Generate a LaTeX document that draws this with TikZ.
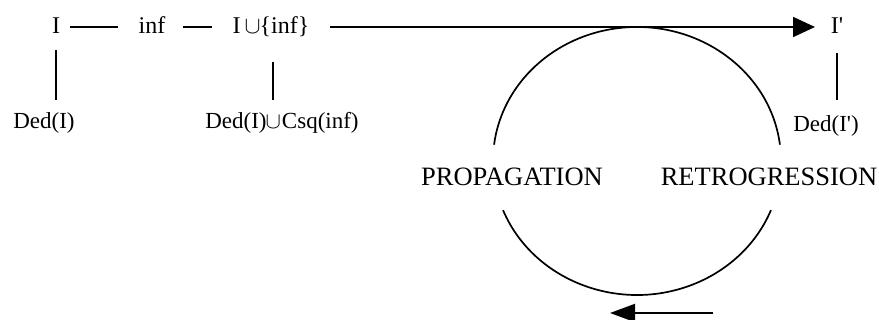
\RequirePackage{fix-cm}
\documentclass[tikz,border=0pt]{standalone}
\usepackage{fontspec}
\setmainfont{Liberation Serif}
\usetikzlibrary{arrows.meta,calc}
\begin{document}
\begin{tikzpicture}[x=1pt,y=1pt,
  lbl/.style={inner sep=0pt,anchor=base,font=\fontsize{24}{28}\selectfont},
  ded/.style={inner sep=0pt,anchor=base,font=\fontsize{23}{27}\selectfont},
  big/.style={inner sep=0pt,anchor=base,font=\fontsize{26.5}{30}\selectfont},
  conn/.style={line width=1.8pt},
  arr/.style={line width=1.8pt,-{Triangle[length=22pt,width=20pt]}},
  loop/.style={line width=1.7pt}]
\useasboundingbox (0,0) rectangle (879,320);
\node[lbl] (I) at (56,286) {I};
\node[lbl] (inf) at (152,286) {inf};
\node[lbl] (iu) at (271,286) {I\,$\cup$\kern-1pt\{inf\}};
\node[lbl] (ip) at (837,286) {I\textquotesingle};
\node[ded] (dedI) at (44,191) {Ded(I)};
\node[ded] (dedu) at (282,191) {Ded(I)\kern-1pt$\cup$\kern1pt Csq(inf)};
\node[ded] (dedip) at (826,188) {Ded(I\textquotesingle)};
\node[big] (prop) at (512,134) {PROPAGATION};
\node[big] (retro) at (769,134) {RETROGRESSION};
% horizontal connectors
\draw[conn] ($(I.base)+(14,7)$) -- ($(inf.base)+(-34,7)$);
\draw[conn] ($(inf.base)+(31,7)$) -- ($(iu.base)+(-59,7)$);
\draw[arr] ($(iu.base)+(59,7)$) -- ($(ip.base)+(-22,7)$);
% vertical connectors
\draw[conn] ($(I.base)+(0,-16)$) -- ($(I.base |- dedI.base)+(0,29)$);
\draw[conn] ($(iu.base)+(2,-28)$) -- ($(iu.base |- dedu.base)+(2,29)$);
\draw[conn] ($(ip.base)+(0,-19)$) -- ($(ip.base |- dedip.base)+(0,32)$);
% cycle
\coordinate (c) at (637,159);
\draw[loop] (c) ++(7:144 and 134) arc[start angle=7,end angle=173,x radius=144,y radius=134];
\draw[loop] (c) ++(201.5:144 and 134) arc[start angle=201.5,end angle=338.5,x radius=144,y radius=134];
\coordinate (bs) at (713,7);
\coordinate (be) at (610,7);
\draw[line width=1.8pt,-{Triangle[length=25pt,width=18pt]}] (bs) -- (be);
\end{tikzpicture}
\end{document}
